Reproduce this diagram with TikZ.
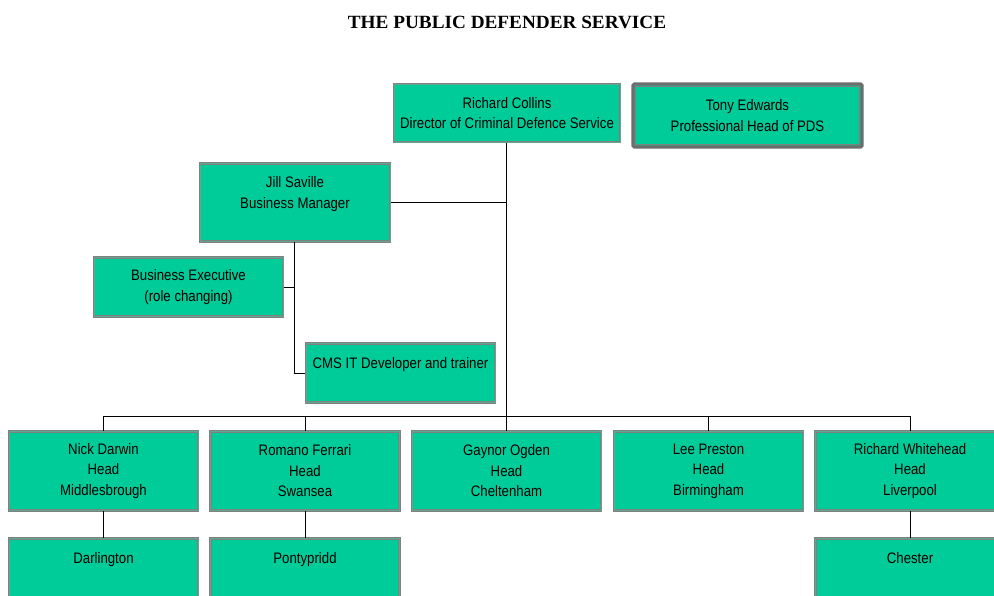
\documentclass[tikz,border=0pt]{standalone}
\usepackage{fontspec}
\setmainfont{Liberation Sans}[FakeStretch=0.87]
\newfontfamily\titlefont{Liberation Serif}[FakeStretch=1.03]
\definecolor{boxgreen}{HTML}{00CC99}
\definecolor{boxgray}{HTML}{808080}
\definecolor{boxmid}{HTML}{5FA88F}
\begin{document}
\begin{tikzpicture}[x=0.75pt,y=-0.75pt,
  orgbox/.style={rectangle, fill=boxgreen, draw=boxgray, line width=0.8pt,
    double=boxmid, double distance=0.6pt, align=center, inner sep=0pt,
    font=\fontsize{11.4pt}{15.4pt}\selectfont, minimum width=189*0.75pt},
  bigbox/.style={rectangle, fill=boxgreen, draw=boxgray!85!black, line width=2.4pt,
    rounded corners=1pt, align=center, inner sep=0pt,
    font=\fontsize{11.4pt}{15.4pt}\selectfont},
  link/.style={draw=black, line width=0.75pt}]
\useasboundingbox (0,0) rectangle (994,595);
\clip (0,0) rectangle (994,595);
\fill[white] (0,0) rectangle (994,595);
\node[font=\titlefont\bfseries\fontsize{14pt}{16pt}\selectfont] (title) at (507,22) {THE PUBLIC DEFENDER SERVICE};
\node[orgbox, minimum width=226*0.75pt, minimum height=58*0.75pt] (collins) at (507,113) {Richard Collins\\Director of Criminal Defence Service};
\node[bigbox, minimum width=229*0.75pt, minimum height=63*0.75pt] (edwards) at (747.5,115.5) {Tony Edwards\\Professional Head of PDS};
\draw[boxgray, line width=0.6pt] ([shift={(4,4)}]edwards.north west) rectangle ([shift={(-4,-4)}]edwards.south east);
\node[orgbox, minimum width=190*0.75pt, minimum height=78*0.75pt] (saville) at (295,202.5) {Jill Saville\\Business Manager\\\mbox{}};
\node[orgbox, minimum width=189*0.75pt, minimum height=59*0.75pt] (bexec) at (188.5,287) {Business Executive\\(role changing)};
\node[orgbox, minimum width=189*0.75pt, minimum height=59*0.75pt] (cms) at (400.5,373) {CMS IT Developer and trainer\\\mbox{}};
\node[orgbox, minimum height=79*0.75pt] (nick) at (103.5,471) {Nick Darwin\\Head\\Middlesbrough};
\node[orgbox, minimum height=79*0.75pt] (romano) at (305,471) {Romano Ferrari\\Head\\Swansea};
\node[orgbox, minimum height=79*0.75pt] (gaynor) at (506.5,471) {Gaynor Ogden\\Head\\Cheltenham};
\node[orgbox, minimum height=79*0.75pt] (lee) at (708.5,471) {Lee Preston\\Head\\Birmingham};
\node[orgbox, minimum height=79*0.75pt] (whitehead) at (910,471) {Richard Whitehead\\Head\\Liverpool};
\node[orgbox, minimum height=59*0.75pt] (darl) at (103.5,568) {Darlington\\\mbox{}};
\node[orgbox, minimum height=59*0.75pt] (ponty) at (305,568) {Pontypridd\\\mbox{}};
\node[orgbox, minimum height=59*0.75pt] (chester) at (910,568) {Chester\\\mbox{}};
% connectors
\coordinate (bus) at (506,416);
\coordinate (sj) at (506,203);
\coordinate (bj) at (294,287);
\coordinate (cj) at (294,373);
\path[link] (collins.south -| bus) -- (bus);
\path[link] (saville.east |- sj) -- (sj);
\path[link] (saville.south -| bj) -- (cj) -- (cms.west |- cj);
\path[link] (bexec.east |- bj) -- (bj);
\path[link] (nick.north) -- (nick.north |- bus) -- (whitehead.north |- bus) -- (whitehead.north);
\path[link] (romano.north) -- (romano.north |- bus);
\path[link] (gaynor.north) -- (gaynor.north |- bus);
\path[link] (lee.north) -- (lee.north |- bus);
\path[link] (nick.south) -- (darl.north);
\path[link] (romano.south) -- (ponty.north);
\path[link] (whitehead.south) -- (chester.north);
\end{tikzpicture}
\end{document}
